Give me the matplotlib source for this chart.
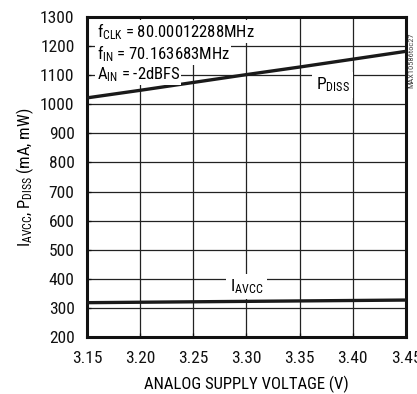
import matplotlib.pyplot as plt

# supply voltage sweep and measured curves
voltage = [3.15, 3.20, 3.25, 3.30, 3.35, 3.40, 3.45]
p_diss = [1022, 1048, 1075, 1102, 1128, 1155, 1182]
i_avcc = [318, 319.5, 321, 322.5, 324, 325.5, 327]

x_ticks = [3.15, 3.20, 3.25, 3.30, 3.35, 3.40, 3.45]
y_ticks = [200, 300, 400, 500, 600, 700, 800, 900, 1000, 1100, 1200, 1300]

fam = "Roboto Condensed"
plt.rcParams["font.family"] = [fam, "DejaVu Sans"]
plt.rcParams["mathtext.fontset"] = "custom"
plt.rcParams["mathtext.rm"] = fam
plt.rcParams["mathtext.it"] = fam

fig = plt.figure(figsize=(4.17, 3.94), dpi=100)
ax = fig.add_axes([87 / 417, 1 - 337 / 394, (406 - 87) / 417, (337 - 17) / 394])

ax.plot(voltage, p_diss, color="#1a1a1a", lw=2.4, zorder=3, solid_capstyle="butt")
ax.plot(voltage, i_avcc, color="#1a1a1a", lw=2.4, zorder=3, solid_capstyle="butt")

ax.set_xlim(3.15, 3.45)
ax.set_ylim(200, 1300)
ax.set_xticks(x_ticks)
ax.set_xticklabels([f"{v:.2f}" for v in x_ticks])
ax.set_yticks(y_ticks)
ax.grid(True, color="#222222", lw=0.9)
ax.set_axisbelow(True)
ax.tick_params(direction="in", length=3, width=0.9, labelsize=12.5, colors="#111111")
ax.tick_params(axis="x", pad=10)
ax.tick_params(axis="y", pad=9)
for s in ax.spines.values():
    s.set_linewidth(2.2)
    s.set_color("#111111")

ax.set_xlabel("ANALOG SUPPLY VOLTAGE (V)", fontsize=12, labelpad=7)
ax.set_ylabel(r"I$_{\rm AVCC}$, P$_{\rm DISS}$ (mA, mW)", fontsize=12, labelpad=3)

# test conditions, white boxes hide the grid behind them
box = dict(facecolor="white", edgecolor="none", pad=1.0)
ax.text(0.03, 0.955, r"f$_{\rm CLK}$ = 80.00012288MHz", transform=ax.transAxes,
        fontsize=12, va="center", ha="left", bbox=box, zorder=4)
ax.text(0.03, 0.885, r"f$_{\rm IN}$ = 70.163683MHz", transform=ax.transAxes,
        fontsize=12, va="center", ha="left", bbox=box, zorder=4)
ax.text(0.03, 0.82, r"A$_{\rm IN}$ = -2dBFS", transform=ax.transAxes,
        fontsize=12, va="center", ha="left", bbox=box, zorder=4)
ax.text(3.381, 1066, r"P$_{\rm DISS}$", fontsize=12.5, va="center", ha="center",
        bbox=dict(facecolor="white", edgecolor="none", pad=2.5), zorder=4)
ax.text(3.30, 374, r"I$_{\rm AVCC}$", fontsize=12.5, va="center", ha="center",
        bbox=dict(facecolor="white", edgecolor="none", pad=2.5), zorder=4)

fig.text(411 / 417, 1 - 60 / 394, "MAX10586toc27", rotation=90, fontsize=6,
         color="#444444", ha="center", va="center")

fig.savefig("out.png", dpi=100)
